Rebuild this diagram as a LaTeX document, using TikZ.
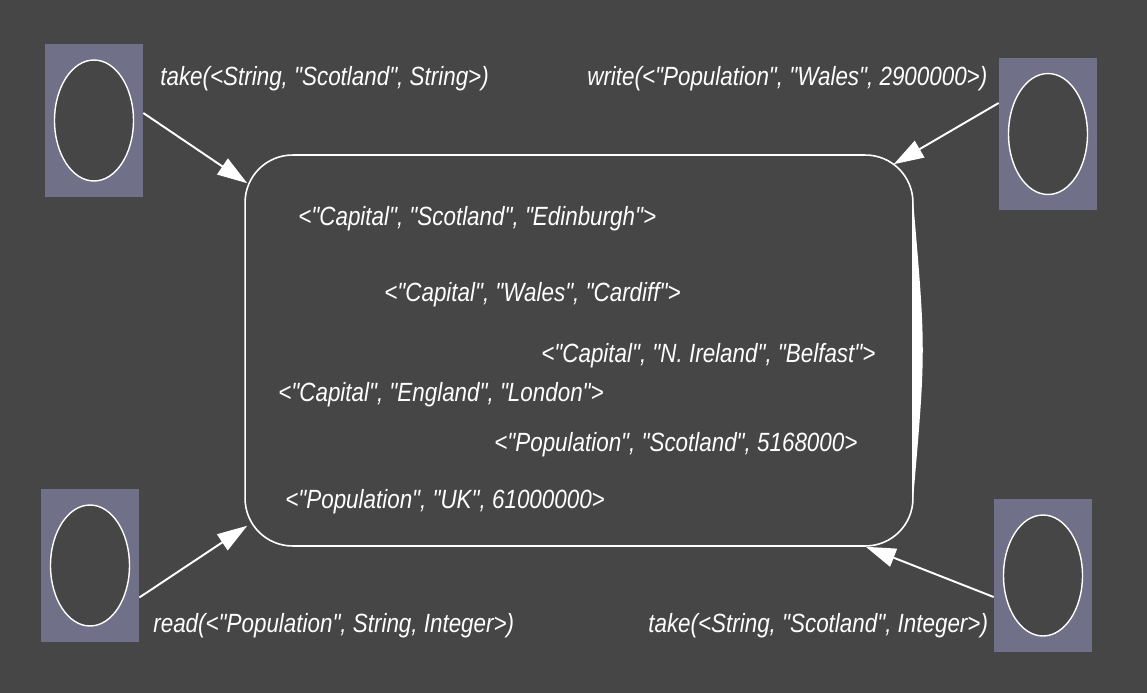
\documentclass[tikz,border=0pt]{standalone}
\usepackage{fontspec}
\setmainfont{Liberation Sans}[FakeStretch=0.85,Ligatures=TeXOff]
\usepackage{tikz}
\usetikzlibrary{positioning}
\usetikzlibrary{shapes.geometric}
\usetikzlibrary{arrows.meta}
\definecolor{bgcol}{HTML}{464646}
\definecolor{agentcol}{HTML}{707088}

\begin{document}
\begin{tikzpicture}[x=0.02cm,y=-0.02cm,
        agent/.style={rectangle,fill=agentcol,minimum width=1.96cm,minimum height=3.06cm,inner sep=0},
        proc/.style={ellipse,draw=white,fill=bgcol,line width=0.8pt,minimum width=1.58cm,minimum height=2.42cm,inner sep=0},
        tuple/.style={text=white,anchor=west,inner sep=0,font=\itshape\fontsize{15}{18}\selectfont},
        arr/.style={draw=white,line width=1.1pt,-{Triangle[length=0.6cm,width=0.38cm]}}]
        \fill[bgcol] (0,0) rectangle (1147,693);

        % tuple space
        \node[draw=white,line width=0.9pt,rounded corners=0.95cm,minimum width=13.36cm,minimum height=7.82cm,inner sep=0] (space) at (579,350.5) {};
        \fill[white] (913,200) .. controls (926,350) .. (913,500) -- cycle;

        % agents
        \node[agent] (tl) at (94,120.5) {};
        \node[proc] at (tl) {};
        \node[agent] (tr) at (1048,134) {};
        \node[proc] at (tr) {};
        \node[agent] (bl) at (90,565.5) {};
        \node[proc] at (bl) {};
        \node[agent] (br) at (1043,575.5) {};
        \node[proc] at (br) {};

        \draw[arr] ([shift={(0,-7.5)}]tl.east) -- ([shift={(3,29)}]space.north west);
        \draw[arr] ([shift={(0,-31)}]tr.west) -- ([shift={(-20,10)}]space.north east);
        \draw[arr] ([shift={(0,32)}]bl.east) -- ([shift={(3,-21)}]space.south west);
        \draw[arr] ([shift={(0,21.5)}]br.west) -- ([shift={(-48,0)}]space.south east);

        % operations
        \node[tuple] (op1) at (160,79) {take(<String, "Scotland", String>)};
        \node[tuple] (op2) at (587,79) {write(<"Population", "Wales", 2900000>)};
        \node[tuple] (op3) at (153,626) {read(<"Population", String, Integer>)};
        \node[tuple] (op4) at (648,626) {take(<String, "Scotland", Integer>)};

        % tuples
        \node[tuple] (t1) at (298,219) {<"Capital", "Scotland", "Edinburgh">};
        \node[tuple] (t2) at (384,295) {<"Capital", "Wales", "Cardiff">};
        \node[tuple] (t3) at (541,356) {<"Capital", "N. Ireland", "Belfast">};
        \node[tuple] (t4) at (278,395) {<"Capital", "England", "London">};
        \node[tuple] (t5) at (494,445) {<"Population", "Scotland", 5168000>};
        \node[tuple] (t6) at (285,502) {<"Population", "UK", 61000000>};
      \end{tikzpicture}
\end{document}
